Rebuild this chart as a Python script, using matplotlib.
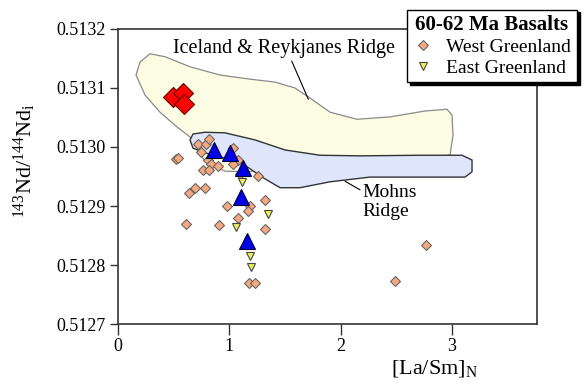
import numpy as np
import matplotlib
matplotlib.use("Agg")
import matplotlib.pyplot as plt
from matplotlib.patches import Polygon
from matplotlib.lines import Line2D

plt.rcParams['font.family'] = ['Liberation Serif', 'DejaVu Serif']
plt.rcParams['mathtext.default'] = 'regular'

# West Greenland, 60-62 Ma basalts
west_x = [0.721, 0.791, 0.818, 0.743, 0.811, 0.836, 0.761, 0.815, 0.896, 1.036,
          1.081, 1.036, 1.096, 1.261, 0.518, 0.536, 0.692, 0.641, 0.782, 0.977,
          1.186, 1.171, 1.321, 1.075, 0.611, 0.910, 1.321, 1.180, 1.231, 2.767, 2.489]
west_y = [0.513005, 0.513005, 0.513013, 0.512992, 0.512978, 0.512971, 0.512961, 0.512961,
          0.512968, 0.512999, 0.512978, 0.512972, 0.512955, 0.512951, 0.512979, 0.512981,
          0.512931, 0.512922, 0.512931, 0.512900, 0.512900, 0.512892, 0.512910, 0.512880,
          0.512869, 0.512867, 0.512861, 0.512770, 0.512770, 0.512834, 0.512773]

# East Greenland
east_x = [1.111, 1.350, 1.060, 1.186, 1.192]
east_y = [0.512940, 0.512886, 0.512864, 0.512815, 0.512797]

# blue triangles and red diamonds (not in legend)
blue_x = [0.863, 1.006, 1.123, 1.105, 1.159]
blue_y = [0.512995, 0.512990, 0.512964, 0.512915, 0.512841]
red_x = [0.497, 0.587, 0.593]
red_y = [0.513084, 0.513091, 0.513073]

# outline of Iceland & Reykjanes Ridge field
ice_x = [0.162, 0.198, 0.288, 0.422, 0.647, 0.916, 1.186, 1.411, 1.590, 1.725,
         1.905, 2.147, 2.444, 2.758, 2.956, 3.001, 3.010, 2.983, 2.534, 1.905,
         1.366, 1.186, 0.961, 0.782, 0.647, 0.530, 0.377, 0.243]
ice_y = [0.513122, 0.513144, 0.513158, 0.513153, 0.513136, 0.513122, 0.513115, 0.513110,
         0.513100, 0.513083, 0.513059, 0.513047, 0.513051, 0.513061, 0.513064, 0.513054,
         0.513020, 0.512986, 0.512981, 0.512978, 0.512969, 0.512958, 0.512959, 0.512975,
         0.513017, 0.513034, 0.513059, 0.513088]

# outline of Mohns Ridge field
mohns_x = [0.647, 0.674, 0.782, 0.961, 1.231, 1.500, 1.815, 2.174, 2.713, 3.091,
           3.181, 3.181, 3.118, 2.713, 2.264, 1.905, 1.635, 1.456, 1.294, 1.141,
           0.961, 0.782, 0.674]
mohns_y = [0.513012, 0.513022, 0.513025, 0.513024, 0.513012, 0.512995, 0.512986, 0.512985,
           0.512986, 0.512986, 0.512978, 0.512958, 0.512949, 0.512949, 0.512949, 0.512941,
           0.512931, 0.512931, 0.512949, 0.512969, 0.512981, 0.512990, 0.512998]

yticks = [0.5127, 0.5128, 0.5129, 0.5130, 0.5131, 0.5132]
xticks = [0, 1, 2, 3]

fig = plt.figure(figsize=(5.85, 3.86), dpi=100)
ax = fig.add_axes([0.2017, 0.1606, 0.7163, 0.7643])

ax.add_patch(Polygon(np.column_stack([ice_x, ice_y]), closed=True, facecolor='#fcfde3',
                     edgecolor='#8a8a8a', lw=0.9, joinstyle='round', zorder=1))
ax.add_patch(Polygon(np.column_stack([mohns_x, mohns_y]), closed=True, facecolor='#dfe6fb',
                     edgecolor='#333333', lw=1.0, joinstyle='round', zorder=2))

ax.plot(west_x, west_y, 'D', ms=4.6, mfc='#f7a880', mec='#666666', mew=0.8, ls='none', zorder=4)
ax.plot(east_x, east_y, 'v', ms=6, mfc='#eef25c', mec='#444444', mew=0.8, ls='none', zorder=4)
ax.plot(blue_x, blue_y, '^', ms=12, mfc='#0000e6', mec='#000033', mew=0.8, ls='none', zorder=5)
ax.plot(red_x, red_y, 'D', ms=10, mfc='#ff0000', mec='#660000', mew=0.8, ls='none', zorder=5)

ax.annotate('Iceland & Reykjanes Ridge', xy=(1.71, 0.513081), xytext=(1.49, 0.5131665),
            ha='center', va='center', fontsize=14.5,
            arrowprops=dict(arrowstyle='-', color='black', lw=0.8, shrinkA=0, shrinkB=0,
                            relpos=(0.53, 0.0)))
ax.annotate('Mohns\nRidge', xy=(2.04, 0.512942), xytext=(2.20, 0.512906),
            ha='left', va='center', fontsize=14, linespacing=1.15,
            arrowprops=dict(arrowstyle='-', color='black', lw=0.8, shrinkA=0, shrinkB=0,
                            relpos=(-0.05, 0.85)))

ax.set_xlim(0, 3.765)
ax.set_ylim(0.5127, 0.5132)
ax.set_xticks(xticks)
ax.set_yticks(yticks)
ax.set_xticklabels([str(t) for t in xticks])
ax.set_yticklabels(['%.4f' % t for t in yticks])
ax.tick_params(axis='both', direction='out', labelsize=13, color='#333333', width=1)
ax.tick_params(axis='y', length=6, pad=3)
ax.tick_params(axis='x', length=8, pad=2)
for s in ax.spines.values():
    s.set_color('#333333')
    s.set_linewidth(1.2)

ax.set_xlabel('[La/Sm]$_N$', fontsize=16)
ax.xaxis.set_label_coords(0.755, -0.115)
ax.set_ylabel('$^{143}$Nd/$^{144}$Nd$_i$', fontsize=16)
ax.yaxis.set_label_coords(-0.19, 0.555)

handles = [Line2D([], [], marker='D', ms=4.6, mfc='#f7a880', mec='#666666', mew=0.8, ls='none'),
           Line2D([], [], marker='v', ms=6, mfc='#eef25c', mec='#444444', mew=0.8, ls='none')]
leg = fig.legend(handles, ['West Greenland', 'East Greenland'], title='60-62 Ma Basalts',
                 loc='upper left', bbox_to_anchor=(0.696, 0.975), fontsize=14,
                 title_fontproperties={'weight': 'bold', 'size': 15},
                 frameon=True, fancybox=False, shadow={'color': 'black', 'alpha': 1},
                 edgecolor='black', framealpha=1, borderaxespad=0, borderpad=0.3,
                 handlelength=1.0, handletextpad=0.7, labelspacing=0.15)
leg.get_frame().set_linewidth(1.0)

fig.savefig('out.png', dpi=100)
